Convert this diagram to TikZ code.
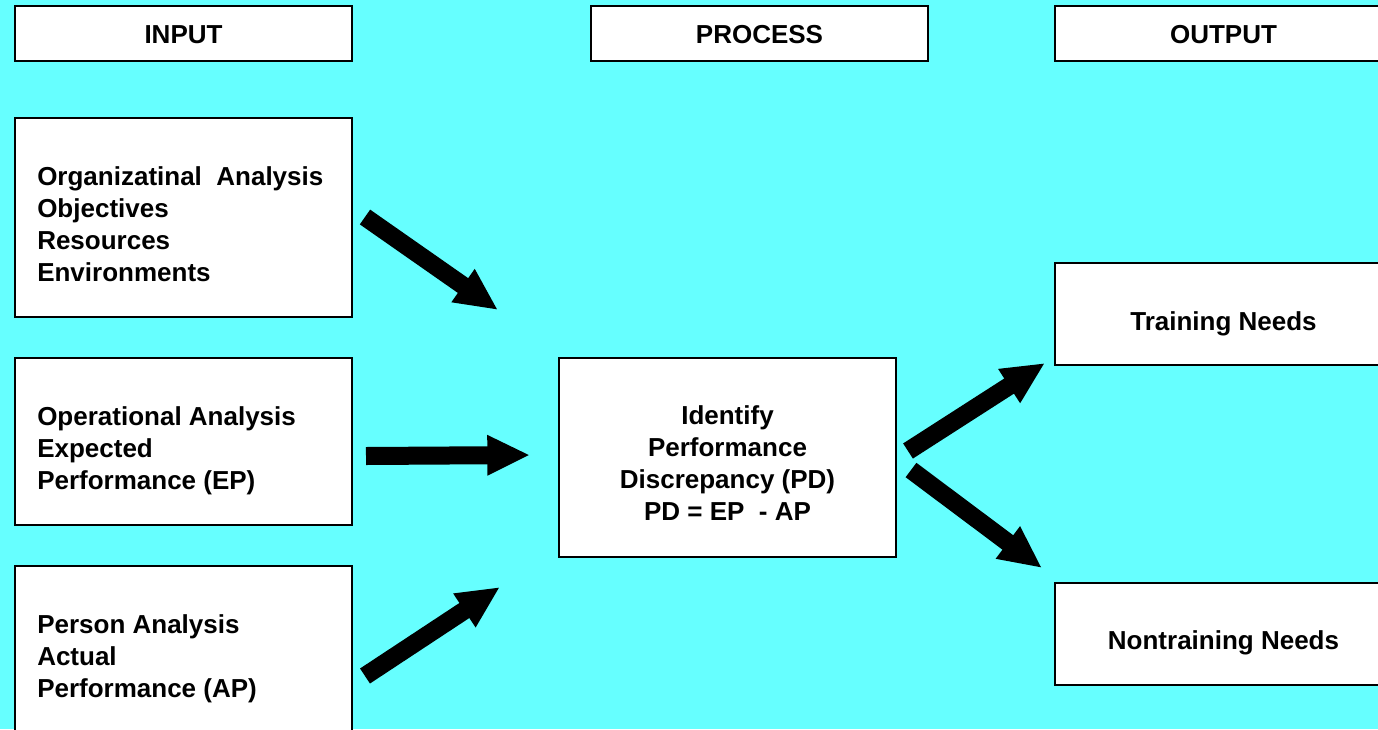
\documentclass[tikz,border=0pt]{standalone}
\usepackage{fontspec}
\setmainfont{Liberation Sans}
\usetikzlibrary{arrows.meta}
\definecolor{bgcyan}{HTML}{66FFFF}
\begin{document}
\begin{tikzpicture}[x=0.75pt,y=-0.75pt,
  box/.style={draw=black,fill=white,line width=1.6pt,rectangle,inner sep=0pt},
  txt/.style={font=\fontsize{19.5pt}{24pt}\selectfont\bfseries,inner sep=0pt},
  bigarrow/.style={line width=13.5pt,-{Triangle[length=32pt,width=28pt]}}]
\fill[bgcyan] (0,0) rectangle (1378,729);
\useasboundingbox (0,0) rectangle (1378,729);
% header boxes
\node[box,minimum width=252.75pt,minimum height=41.25pt] (inbox) at (183.5,33.5) {};
\node[box,minimum width=252.75pt,minimum height=41.25pt] (prbox) at (759.5,33.5) {};
\node[box,minimum width=252.75pt,minimum height=41.25pt] (outbox) at (1223.5,33.5) {};
\node[txt] (intxt) at (183.5,35) {INPUT};
\node[txt] (prtxt) at (759.5,35) {PROCESS};
\node[txt] (outtxt) at (1223.5,35) {OUTPUT};
% input boxes
\node[box,minimum width=252.75pt,minimum height=149.25pt] (org) at (183.5,217.5) {};
\node[box,minimum width=252.75pt,minimum height=125.25pt] (op) at (183.5,441.5) {};
\node[box,minimum width=252.75pt,minimum height=130.5pt] (per) at (183.5,653) {};
\node[txt,align=left,anchor=west] (orgtxt) at (37,224.5) {Organizatinal\ \ Analysis\\Objectives\\Resources\\Environments};
\node[txt,align=left,anchor=west] (optxt) at (37,451) {Operational Analysis\\Expected\\Performance (EP)};
\node[txt,align=left,anchor=west] (pertxt) at (37,659) {Person Analysis\\Actual\\Performance (AP)};
% process box
\node[box,minimum width=252.75pt,minimum height=149.25pt] (proc) at (727.5,457.5) {};
\node[txt,align=center] (proctxt) at (727.5,463.5) {Identify\\Performance\\Discrepancy (PD)\\PD = EP\ \ - AP};
% output boxes
\node[box,minimum width=252.75pt,minimum height=76.5pt] (train) at (1223.5,314) {};
\node[box,minimum width=252.75pt,minimum height=76.5pt] (nontrain) at (1223.5,634) {};
\node[txt] (traintxt) at (1223.5,324) {Training Needs};
\node[txt] (nontraintxt) at (1223.5,643) {Nontraining Needs};
% arrow endpoints
\coordinate (a1s) at (365,217);
\coordinate (a1e) at (498,310);
\coordinate (a2s) at (366,456);
\coordinate (a2e) at (530,455);
\coordinate (a3s) at (365,676);
\coordinate (a3e) at (500,587);
\coordinate (a4s) at (908,451);
\coordinate (a4e) at (1045,363);
\coordinate (a5s) at (911,470);
\coordinate (a5e) at (1042,568);
\draw[bigarrow] (a1s) -- (a1e);
\draw[bigarrow] (a2s) -- (a2e);
\draw[bigarrow] (a3s) -- (a3e);
\draw[bigarrow] (a4s) -- (a4e);
\draw[bigarrow] (a5s) -- (a5e);
\end{tikzpicture}
\end{document}
